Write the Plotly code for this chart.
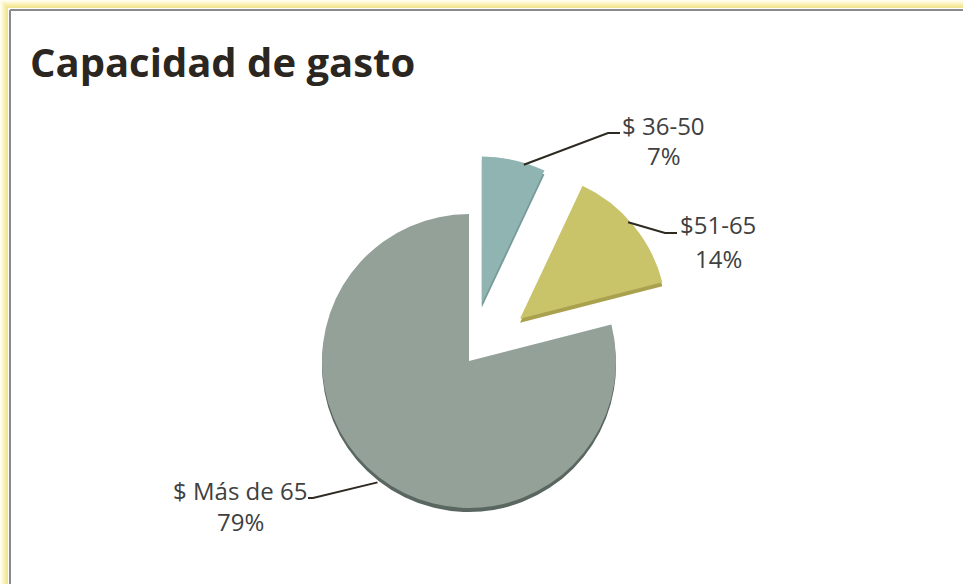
import math
import plotly.graph_objects as go

# ---- data ----
categories = ["$ 36-50", "$51-65", "$ Más de 65"]
values = [7, 14, 79]
colors = ["#8fb4b2", "#c9c36a", "#94a199"]
edge_colors = ["#76999a", "#a9a14e", "#5a6660"]
pulls = [0.4, 0.45, 0.0]
title_text = "Capacidad de gasto"

W, H = 963, 584
# pie geometry (pixels)
CX, CY, R = 469, 361, 147
DEPTH = 4
maxpull = max(pulls)
half = R * (1 + maxpull)

def domain_for(dy):
    return dict(x=[(CX - half) / W, (CX + half) / W],
                y=[1 - (CY + dy + half) / H, 1 - (CY + dy - half) / H])

common = dict(labels=categories, values=values, sort=False, direction="clockwise",
              rotation=0, pull=pulls, textinfo="none", showlegend=False)
fig = go.Figure()
# rim (3D edge) drawn underneath, slightly lower
fig.add_trace(go.Pie(**common, hoverinfo="skip",
                     marker=dict(colors=edge_colors, line=dict(width=0)),
                     domain=domain_for(DEPTH)))
fig.add_trace(go.Pie(**common, hoverinfo="label+percent",
                     marker=dict(colors=colors, line=dict(width=0)),
                     domain=domain_for(0)))

def px2paper(x, y):
    return x / W, 1 - y / H

FONT = "Open Sans, Noto Sans, sans-serif"
TSIZE = 24
# label layout: elbow point (px), elbow length, side
elbow_pts = [(608, 133), (665, 233), (313, 498)]
elbow_len = [12, 12, 5]
sides = [1, 1, -1]
ang_off = [3.0, -1.5, 0.0]
name_w = [81, 76, 134]
pct_dy = [23, 25, 23]
total = sum(values)
shapes = []
annotations = []
cum = 0
for i, (cat, v) in enumerate(zip(categories, values)):
    mid = (cum + v / 2) / total * 2 * math.pi
    cum += v
    if i == 2:
        ang = math.radians(217)
        d = R + 5
    else:
        ang = mid + math.radians(ang_off[i])
        d = R * (1 + pulls[i]) - 2
    sx = CX + d * math.sin(ang)
    sy = CY - d * math.cos(ang)
    ex, ey = elbow_pts[i]
    side = sides[i]
    hx = ex + side * elbow_len[i]
    pts = [(sx, sy), (ex, ey), (hx, ey)]
    path = "M " + " L ".join(f"{px2paper(x, y)[0]},{px2paper(x, y)[1]}" for x, y in pts)
    shapes.append(dict(type="path", path=path, xref="paper", yref="paper",
                       line=dict(color="#2e2a22", width=2)))
    pct = round(v / total * 100)
    left = hx + 3 if side > 0 else hx - 1 - name_w[i]
    cxl = left + name_w[i] / 2
    nx, ny = px2paper(cxl, ey - 8)
    annotations.append(dict(
        x=nx, y=ny, xref="paper", yref="paper", xanchor="center", yanchor="middle",
        text=cat, showarrow=False,
        font=dict(family=FONT, size=TSIZE, color="#404040"),
    ))
    qx, qy = px2paper(cxl, ey + pct_dy[i])
    annotations.append(dict(
        x=qx, y=qy, xref="paper", yref="paper", xanchor="center", yanchor="middle",
        text=f"{pct}%", showarrow=False,
        font=dict(family=FONT, size=TSIZE, color="#404040"),
    ))

# title
tx, ty = px2paper(28, 62)
annotations.append(dict(
    x=tx, y=ty, xref="paper", yref="paper", xanchor="left", yanchor="middle",
    text=f"<b>{title_text}</b>", showarrow=False,
    font=dict(family=FONT, size=40, color="#2b2720"),
))

# frame: yellow glow + gray line on top and left
glow = ["#fffdf0", "#fefbe2", "#fcf7d2", "#faf3c0", "#f8efb0", "#f6eba4", "#f4e89a", "#f2e590"]
for k, c in enumerate(glow):
    shapes.append(dict(type="rect", xref="paper", yref="paper",
                       x0=k / W, x1=(k + 1) / W, y0=0, y1=1 - k / H,
                       fillcolor=c, line=dict(width=0), layer="below"))
    shapes.append(dict(type="rect", xref="paper", yref="paper",
                       x0=k / W, x1=1, y0=1 - (k + 1) / H, y1=1 - k / H,
                       fillcolor=c, line=dict(width=0), layer="below"))
shapes.append(dict(type="line", xref="paper", yref="paper",
                   x0=10 / W, x1=1, y0=1 - 10 / H, y1=1 - 10 / H,
                   line=dict(color="#8a8a8a", width=2)))
shapes.append(dict(type="line", xref="paper", yref="paper",
                   x0=10 / W, x1=10 / W, y0=0, y1=1 - 10 / H,
                   line=dict(color="#8a8a8a", width=2)))

fig.update_layout(
    width=W, height=H, margin=dict(l=0, r=0, t=0, b=0),
    paper_bgcolor="white", plot_bgcolor="white",
    shapes=shapes, annotations=annotations,
)
fig.write_html("out.html", config={"displayModeBar": False},
               post_script="document.body.style.margin='0';document.body.style.overflow='hidden';")
